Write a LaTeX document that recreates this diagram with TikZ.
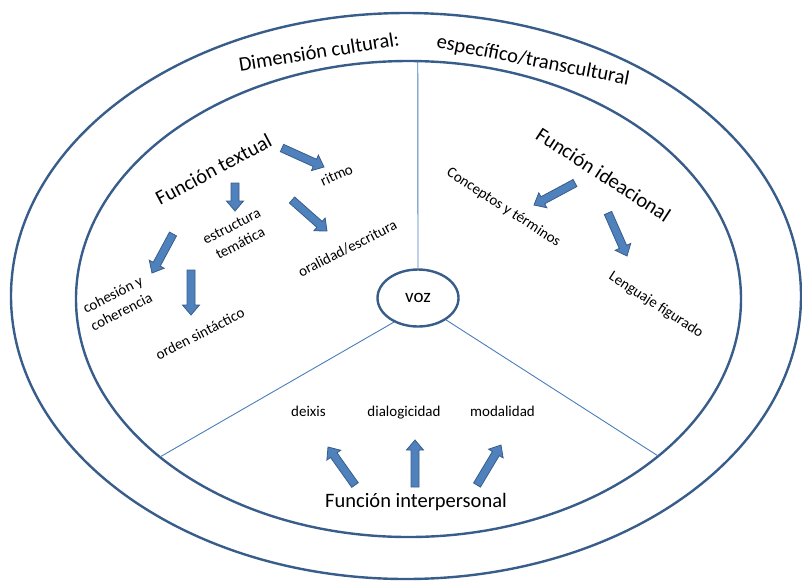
\documentclass[tikz,border=0pt]{standalone}
\usepackage{fontspec}
\setmainfont{Carlito}
\usepackage{tikz}
\usetikzlibrary{positioning,calc,shapes.geometric}

\definecolor{ringblue}{HTML}{385D8A}
\definecolor{lineblue}{HTML}{4A7EBB}
\definecolor{arrowfill}{HTML}{4F81BD}

\newcommand{\bigfont}{\fontsize{20.5}{24}\selectfont}
\newcommand{\smallfont}{\fontsize{15}{19}\selectfont}

% block arrow from #1 to #2
\newcommand{\blockarrow}[2]{%
  \coordinate (bh) at ($(#2)!10pt!(#1)$);
  \filldraw[blockarr] ($(#1)!4pt!90:(#2)$) -- ($(bh)!4pt!90:(#2)$)
    -- ($(bh)!8.5pt!90:(#2)$) -- (#2) -- ($(bh)!8.5pt!-90:(#2)$)
    -- ($(bh)!4pt!-90:(#2)$) -- ($(#1)!4pt!-90:(#2)$) -- cycle;}

\begin{document}
\begin{tikzpicture}[x=1pt,y=-1pt,
    ring/.style={draw=ringblue,line width=2.4pt},
    divider/.style={draw=lineblue,line width=0.9pt},
    title/.style={font=\bigfont,inner sep=0pt},
    item/.style={font=\smallfont,align=center,inner sep=0pt},
    blockarr/.style={fill=arrowfill,draw=ringblue,line width=0.8pt,line join=miter}]
    \useasboundingbox (0,0) rectangle (802,582);

    % rings
    \draw[ring] (406,296) ellipse [x radius=395, y radius=283];
    \draw[ring] (408.5,299) ellipse [x radius=332.5, y radius=238];
    \coordinate (inner) at (408.5,299);

    \node[ellipse,ring,minimum width=81pt,minimum height=57pt,font=\fontsize{19}{22}\selectfont] (voz) at (418,298) {voz};

    \path (inner) ++(271.6:332.5 and 238) coordinate (top);
    \path (inner) ++(138.4:332.5 and 238) coordinate (ll);
    \path (inner) ++(41.3:332.5 and 238) coordinate (lr);
    \draw[divider] (voz.north) -- (top);
    \draw[divider] (voz.225) -- (ll);
    \draw[divider] (voz.-38) -- (lr);

    % titles
    \node[title,rotate=9] (dim) at (319,51.5) {Dimensión cultural:};
    \node[title,rotate=-11] (espec) at (533,61) {específico/transcultural};
    \node[title,rotate=28] (ftext) at (213.5,169.5) {Función textual};
    \node[title,rotate=-33] (fidea) at (603.5,174.5) {Función ideacional};
    \node[title] (finter) at (416,502) {Función interpersonal};

    % textual
    \node[item,rotate=24] (ritmo) at (336.5,175) {ritmo};
    \node[item,rotate=27] (estruct) at (236,235) {estructura\\temática};
    \node[item,rotate=27] (oral) at (347.5,248.5) {oralidad/escritura};
    \node[item,rotate=27] (cohes) at (117,303) {cohesión y\\coherencia};
    \node[item,rotate=27] (orden) at (200,333.5) {orden sintáctico};

    % ideacional
    \node[item,rotate=-33] (concep) at (503.5,207.5) {Conceptos y términos};
    \node[item,rotate=-33] (lengua) at (656,305) {Lenguaje figurado};

    % interpersonal
    \node[item,anchor=base] (deixis) at (308.5,416) {deixis};
    \node[item,anchor=base] (dialog) at (404,416) {dialogicidad};
    \node[item,anchor=base] (modal) at (502.5,416) {modalidad};

    % arrows
    \coordinate (ritmo-s) at (282,148);   \coordinate (ritmo-e) at (324,167);
    \coordinate (estruct-s) at (235,183); \coordinate (estruct-e) at (235,211);
    \coordinate (oral-s) at (292,200);    \coordinate (oral-e) at (327,231);
    \coordinate (cohes-s) at (173,234);   \coordinate (cohes-e) at (152,273);
    \coordinate (orden-s) at (191,270);   \coordinate (orden-e) at (191,315);
    \coordinate (concep-s) at (575,183);  \coordinate (concep-e) at (534,205);
    \coordinate (lengua-s) at (608,213);  \coordinate (lengua-e) at (627,256);
    \coordinate (deixis-s) at (355,485);  \coordinate (deixis-e) at (328,447);
    \coordinate (dialog-s) at (415,487);  \coordinate (dialog-e) at (415,440);
    \coordinate (modal-s) at (477,485);   \coordinate (modal-e) at (501,445);

    \blockarrow{ritmo-s}{ritmo-e}
    \blockarrow{estruct-s}{estruct-e}
    \blockarrow{oral-s}{oral-e}
    \blockarrow{cohes-s}{cohes-e}
    \blockarrow{orden-s}{orden-e}
    \blockarrow{concep-s}{concep-e}
    \blockarrow{lengua-s}{lengua-e}
    \blockarrow{deixis-s}{deixis-e}
    \blockarrow{dialog-s}{dialog-e}
    \blockarrow{modal-s}{modal-e}
\end{tikzpicture}
\end{document}
